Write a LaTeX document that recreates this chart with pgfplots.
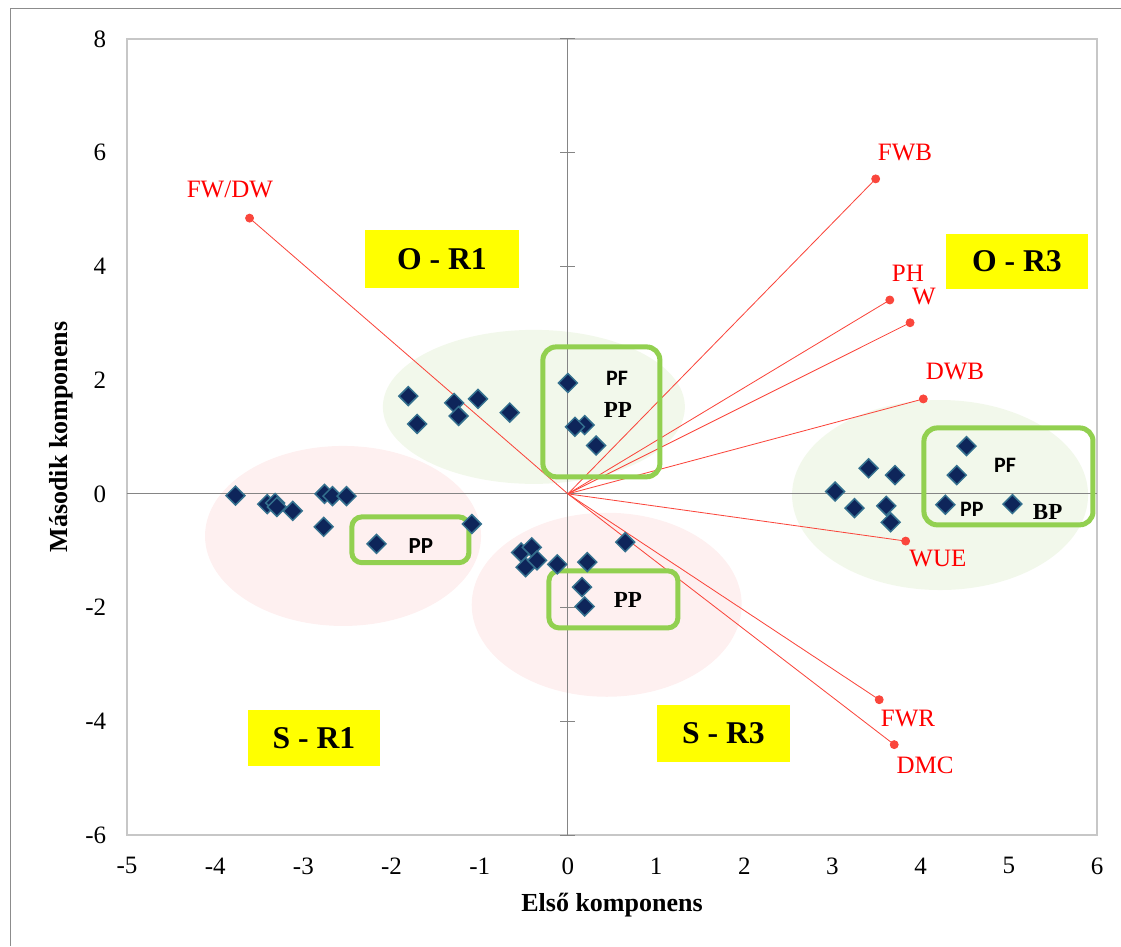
\documentclass[border=0pt]{standalone}
\usepackage{pgfplots}
\pgfplotsset{compat=1.18}
\usepackage{fontspec}
\setmainfont{Liberation Serif}
\newfontfamily\carl{Carlito}
\definecolor{ptfill}{RGB}{14,37,90}
\definecolor{ptedge}{RGB}{52,112,142}
\definecolor{vecred}{RGB}{250,70,60}
\definecolor{txtred}{RGB}{255,0,0}
\definecolor{boxgreen}{RGB}{146,208,80}
\definecolor{ellgreen}{RGB}{242,248,235}
\definecolor{ellpink}{RGB}{254,240,240}
\definecolor{yel}{RGB}{255,255,0}
\begin{document}
\begin{tikzpicture}
\begin{axis}[
  name=ax, scale only axis, width=582pt, height=477.6pt,
  xmin=-5, xmax=6, ymin=-6, ymax=8,
  xtick={-5,-4,...,6}, ytick={-6,-4,...,8},
  major tick length=0pt,
  axis line style={draw=black!22, line width=1pt},
  tick label style={font=\fontsize{15}{16}\selectfont},
  /pgf/number format/assume math mode=true,
  xticklabel style={yshift=-10pt},
  yticklabel style={xshift=-9pt},
  clip=false,
]
% background ellipses
\fill[ellgreen] (axis cs:-0.386,1.53) ellipse [x radius=90.6pt, y radius=46.2pt];
\fill[ellgreen] (axis cs:4.22,-0.02) ellipse [x radius=88.8pt, y radius=57pt];
\fill[ellpink] (axis cs:-2.55,-0.74) ellipse [x radius=82.8pt, y radius=54pt];
\fill[ellpink] (axis cs:0.44,-1.95) ellipse [x radius=81pt, y radius=55.2pt];
% middle axis lines
\draw[black!48, line width=0.6pt] (axis cs:-5,0) -- (axis cs:6,0);
\draw[black!48, line width=0.6pt] (axis cs:0,-6) -- (axis cs:0,8);
\pgfplotsinvokeforeach{-6,-4,-2,2,4,6,8}{
  \draw[black!48, line width=0.6pt] ([xshift=-4.5pt]axis cs:0,#1) -- ([xshift=4.5pt]axis cs:0,#1);
}
% loading vectors
\addplot[vecred, line width=0.5pt, mark=*, mark size=2.4pt, mark indices={2}, mark options={fill=vecred, draw=vecred}] coordinates {(0,0) (-3.61,4.85)};
\addplot[vecred, line width=0.5pt, mark=*, mark size=2.4pt, mark indices={2}, mark options={fill=vecred, draw=vecred}] coordinates {(0,0) (3.49,5.54)};
\addplot[vecred, line width=0.5pt, mark=*, mark size=2.4pt, mark indices={2}, mark options={fill=vecred, draw=vecred}] coordinates {(0,0) (3.65,3.41)};
\addplot[vecred, line width=0.5pt, mark=*, mark size=2.4pt, mark indices={2}, mark options={fill=vecred, draw=vecred}] coordinates {(0,0) (3.88,3.01)};
\addplot[vecred, line width=0.5pt, mark=*, mark size=2.4pt, mark indices={2}, mark options={fill=vecred, draw=vecred}] coordinates {(0,0) (4.03,1.67)};
\addplot[vecred, line width=0.5pt, mark=*, mark size=2.4pt, mark indices={2}, mark options={fill=vecred, draw=vecred}] coordinates {(0,0) (3.83,-0.83)};
\addplot[vecred, line width=0.5pt, mark=*, mark size=2.4pt, mark indices={2}, mark options={fill=vecred, draw=vecred}] coordinates {(0,0) (3.53,-3.62)};
\addplot[vecred, line width=0.5pt, mark=*, mark size=2.4pt, mark indices={2}, mark options={fill=vecred, draw=vecred}] coordinates {(0,0) (3.70,-4.41)};
% green boxes
\draw[boxgreen, line width=3pt, rounded corners=8pt] (axis cs:-0.284,2.585) rectangle (axis cs:1.043,0.30);
\draw[boxgreen, line width=3pt, rounded corners=6pt] (axis cs:-2.45,-0.405) rectangle (axis cs:-1.123,-1.21);
\draw[boxgreen, line width=3pt, rounded corners=6pt] (axis cs:-0.215,-1.354) rectangle (axis cs:1.247,-2.357);
\draw[boxgreen, line width=3pt, rounded corners=8pt] (axis cs:4.037,1.16) rectangle (axis cs:5.954,-0.545);
% scores
\addplot[only marks, mark=square*, mark size=4pt, mark options={rotate=45, fill=ptfill, draw=ptedge, line width=0.9pt}] coordinates {
(-3.77,-0.03) (-3.41,-0.18) (-3.32,-0.16) (-3.30,-0.23) (-3.12,-0.30)
(-2.77,-0.58) (-2.76,0.00) (-2.67,-0.04) (-2.51,-0.04) (-2.17,-0.88) (-1.09,-0.53)
(-1.81,1.72) (-1.71,1.23) (-1.29,1.60) (-1.24,1.37) (-1.02,1.67)
(-0.66,1.43) (0.00,1.95) (0.19,1.21) (0.08,1.18) (0.32,0.85)
(-0.53,-1.03) (-0.41,-0.94) (-0.48,-1.29) (-0.35,-1.17) (-0.12,-1.24)
(0.22,-1.20) (0.65,-0.85) (0.16,-1.64) (0.19,-1.98)
(3.03,0.04) (3.25,-0.25) (3.41,0.45) (3.71,0.33) (3.61,-0.21) (3.66,-0.50)
(4.52,0.84) (4.41,0.33) (4.28,-0.19) (5.04,-0.18)
};
% box texts
\node[font=\carl\bfseries\fontsize{13.2}{14}\selectfont] at (axis cs:0.556,2.04) {PF};
\node[font=\bfseries\fontsize{13.8}{14}\selectfont] at (axis cs:0.567,1.48) {PP};
\node[font=\carl\bfseries\fontsize{13.8}{14}\selectfont] at (axis cs:-1.667,-0.915) {PP};
\node[font=\bfseries\fontsize{13.8}{14}\selectfont] at (axis cs:0.68,-1.864) {PP};
\node[font=\carl\bfseries\fontsize{13.2}{14}\selectfont] at (axis cs:4.956,0.51) {PF};
\node[font=\carl\bfseries\fontsize{13.2}{14}\selectfont] at (axis cs:4.58,-0.28) {PP};
\node[font=\bfseries\fontsize{13.8}{14}\selectfont] at (axis cs:5.44,-0.317) {BP};
% variable labels
\begin{scope}[font=\fontsize{15}{16}\selectfont, text=txtred]
\node at (axis cs:-3.833,5.346) {FW/DW};
\node at (axis cs:3.822,5.997) {FWB};
\node at (axis cs:3.856,3.887) {PH};
\node at (axis cs:4.037,3.465) {W};
\node at (axis cs:4.389,2.146) {DWB};
\node at (axis cs:4.196,-1.143) {WUE};
\node at (axis cs:3.856,-3.957) {FWR};
\node at (axis cs:4.049,-4.766) {DMC};
\end{scope}
% yellow region labels
\fill[yel] (axis cs:-2.302,4.643) rectangle (axis cs:-0.556,3.623);
\fill[yel] (axis cs:4.287,4.573) rectangle (axis cs:5.897,3.605);
\fill[yel] (axis cs:-3.629,-3.80) rectangle (axis cs:-2.132,-4.78);
\fill[yel] (axis cs:1.009,-3.71) rectangle (axis cs:2.518,-4.71);
\begin{scope}[font=\bfseries\fontsize{19}{20}\selectfont]
\node at (axis cs:-1.429,4.133) {O - R1};
\node at (axis cs:5.092,4.089) {O - R3};
\node at (axis cs:-2.880,-4.29) {S - R1};
\node at (axis cs:1.763,-4.21) {S - R3};
\end{scope}
% axis titles
\node[font=\bfseries\fontsize{15.6}{17}\selectfont] at (rel axis cs:0.5,-0.088) {Első komponens};
\node[rotate=90, font=\bfseries\fontsize{15.6}{17}\selectfont] at (rel axis cs:-0.068,0.5) {Második komponens};
% outer frame
\draw[black!45, line width=0.6pt] (rel axis cs:-0.1196,-0.1394) -- (rel axis cs:-0.1196,1.0377) -- (rel axis cs:1.0247,1.0377);
\coordinate (bl) at (rel axis cs:-0.1309,-0.1394);
\coordinate (tr) at (rel axis cs:1.0247,1.049);
\end{axis}
\pgfresetboundingbox
\path[use as bounding box] (bl) rectangle (tr);
\end{tikzpicture}
\end{document}
